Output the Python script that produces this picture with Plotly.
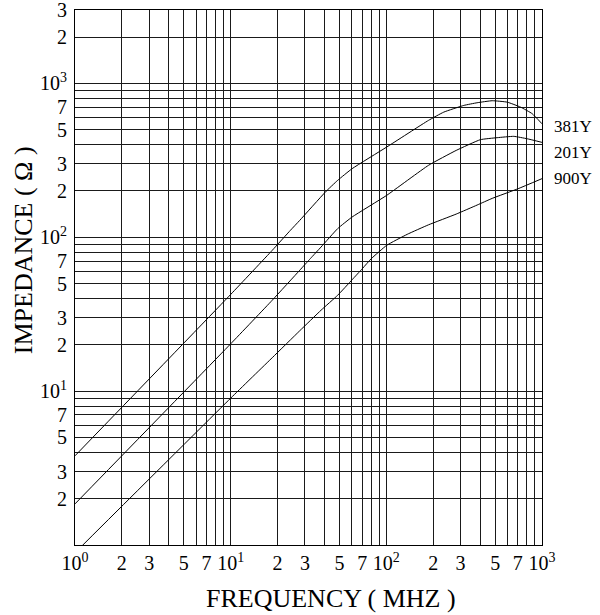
import plotly.graph_objects as go
import math

# ---- data (frequency in MHz, impedance in ohms) ----
freq_381 = [1, 10, 18.5, 24.2, 27.8, 40.6, 48.7, 60.3, 100.6, 186.5, 233.9, 314.5, 383, 478.6, 597.5, 727.6, 865, 1000]
imp_381 = [3.8, 42.5, 82.3, 111, 128.9, 196.9, 234.5, 279.3, 386, 575, 651, 719.5, 749, 772, 756, 702, 636, 547]

freq_201 = [1, 10, 18.5, 27.8, 32.5, 38.1, 48.7, 60.3, 100.6, 186.5, 281, 402, 515, 659, 803, 1000]
imp_201 = [1.85, 20.3, 39.0, 61.1, 72.7, 86.5, 113.9, 135.5, 187.4, 293.5, 367, 431, 444, 453, 437, 414]

freq_900 = [1, 10, 18.5, 27.8, 38.1, 48.7, 60.3, 70.2, 79.9, 100.6, 136.1, 186.5, 281, 383, 478.6, 703, 1000]
imp_900 = [0.89, 9.0, 16.5, 24.7, 33.6, 42.0, 53.0, 62.6, 72.5, 88.7, 104.5, 120.5, 141.5, 162, 179, 207, 240.5]

series_names = ["381Y", "201Y", "900Y"]

# labelled ticks
x_tickvals = [1, 2, 3, 5, 7, 10, 20, 30, 50, 70, 100, 200, 300, 500, 700, 1000]
x_ticktext = ["10<sup>0</sup>", "2", "3", "5", "7", "10<sup>1</sup>", "2", "3", "5", "7",
              "10<sup>2</sup>", "2", "3", "5", "7", "10<sup>3</sup>"]
y_tickvals = [2, 3, 5, 7, 10, 20, 30, 50, 70, 100, 200, 300, 500, 700, 1000, 2000, 3000]
y_ticktext = ["2", "3", "5", "7", "10<sup>1</sup>", "2", "3", "5", "7",
              "10<sup>2</sup>", "2", "3", "5", "7", "10<sup>3</sup>", "2", "3"]
# unlabelled grid lines
x_minorvals = [4, 6, 8, 9, 40, 60, 80, 90, 400, 600, 800, 900]
y_minorvals = [4, 6, 8, 9, 40, 60, 80, 90, 400, 600, 800, 900]

FONT = "Liberation Serif, Times New Roman, serif"
GRID = "#1a1a1a"

fig = go.Figure()
label_shift = {"381Y": -3, "201Y": -10, "900Y": 0}
for name, xs, ys in zip(series_names, [freq_381, freq_201, freq_900], [imp_381, imp_201, imp_900]):
    fig.add_trace(go.Scatter(x=xs, y=ys, mode="lines", name=name,
                             line=dict(color="black", width=1, shape="spline", smoothing=0.4),
                             showlegend=False, hoverinfo="skip"))
    fig.add_annotation(x=1, xref="paper", xanchor="left", xshift=10,
                       y=math.log10(ys[-1]), yref="y", yshift=label_shift[name],
                       text=name, showarrow=False,
                       font=dict(family=FONT, size=17, color="black"))

# axis titles
fig.add_annotation(x=0.548, xref="paper", y=0, yref="paper", yshift=-53,
                   xanchor="center", yanchor="middle", showarrow=False,
                   text="FREQUENCY ( MHZ )", font=dict(family=FONT, size=26, color="black"))
fig.add_annotation(x=0, xref="paper", xshift=-52, y=0.551, yref="paper",
                   xanchor="center", yanchor="middle", showarrow=False, textangle=-90,
                   text="IMPEDANCE ( Ω )", font=dict(family=FONT, size=26, color="black"))

axis_common = dict(type="log", showgrid=True, gridcolor=GRID, gridwidth=1,
                   showline=True, mirror=True, linecolor="black", linewidth=1,
                   ticks="", zeroline=False, automargin=False, ticklabeloverflow="allow",
                   tickfont=dict(family=FONT, size=20, color="black"))

fig.update_xaxes(range=[0, 3.0001], tickmode="array", tickvals=x_tickvals, ticktext=x_ticktext,
                 minor=dict(tickmode="array", tickvals=x_minorvals, showgrid=True,
                            gridcolor=GRID, gridwidth=1, ticks=""),
                 **axis_common)
fig.update_yaxes(range=[0, math.log10(3000) + 0.0002], tickmode="array", tickvals=y_tickvals, ticktext=y_ticktext,
                 minor=dict(tickmode="array", tickvals=y_minorvals, showgrid=True,
                            gridcolor=GRID, gridwidth=1, ticks=""),
                 ticklabelstandoff=3,
                 **axis_common)

fig.update_layout(width=600, height=615, margin=dict(l=75, r=58, t=10, b=70),
                  plot_bgcolor="white", paper_bgcolor="white",
                  font=dict(family=FONT, color="black"))

fig.write_html("out.html", config={"displayModeBar": False, "staticPlot": True},
               post_script="document.body.style.margin='0';")
